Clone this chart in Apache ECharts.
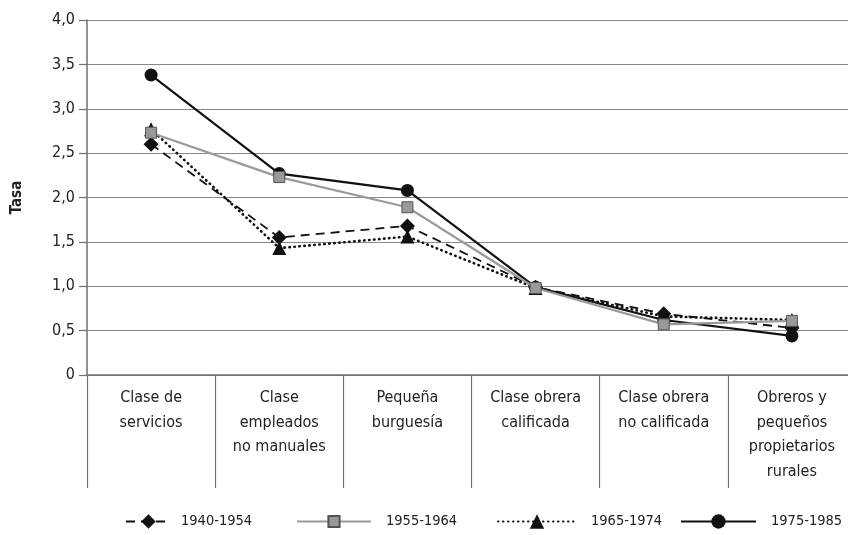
<!DOCTYPE html>
<html>
<head>
<meta charset="utf-8">
<script src="https://cdn.jsdelivr.net/npm/echarts@6/dist/echarts.min.js"></script>
<style>
  html, body { margin: 0; padding: 0; background: #fff; }
  #main { width: 848px; height: 535px; }
</style>
</head>
<body>
<div id="main"></div>
<script>
// categorias (clase social)
var categories = [
    'Clase de\nservicios',
    'Clase\nempleados\nno manuales',
    'Pequeña\nburguesía',
    'Clase obrera\ncalificada',
    'Clase obrera\nno calificada',
    'Obreros y\npequeños\npropietarios\nrurales'
];
var s1940 = [2.60, 1.55, 1.68, 0.99, 0.69, 0.53];
var s1955 = [2.73, 2.23, 1.89, 0.98, 0.57, 0.61];
var s1965 = [2.77, 1.43, 1.56, 0.98, 0.66, 0.62];
var s1975 = [3.38, 2.27, 2.08, 0.99, 0.62, 0.44];
var yTicks = [0, 0.5, 1, 1.5, 2, 2.5, 3, 3.5, 4];

var font = '"DejaVu Sans Condensed", "DejaVu Sans", sans-serif';
var axisGrey = '#707070';

var chart = echarts.init(document.getElementById('main'));

function legendItem(name, left, width, h, gap) {
    return {
        data: [name],
        left: left,
        top: 514,
        padding: 0,
        itemWidth: width,
        itemHeight: h,
        textStyle: { fontFamily: font, fontSize: 14.5, color: '#222', padding: [0, 0, 0, gap] }
    };
}

chart.setOption({
    animation: false,
    // the plot runs a little past the right edge, as in the source
    grid: { left: 87, top: 20, width: 769, height: 355, outerBoundsMode: 'none' },
    legend: [
        legendItem('1940-1954', 125, 45, 18, 5),
        legendItem('1955-1964', 296, 74, 14, 10),
        legendItem('1965-1974', 497, 78, 18, 10),
        legendItem('1975-1985', 680, 75, 18, 10)
    ],
    xAxis: {
        type: 'category',
        data: categories,
        boundaryGap: true,
        axisLine: { lineStyle: { color: axisGrey, width: 1.5 } },
        axisTick: { show: true, interval: 0, length: 113, lineStyle: { color: axisGrey, width: 1.2 } },
        axisLabel: {
            interval: 0,
            margin: 11,
            fontFamily: font,
            fontSize: 16,
            lineHeight: 24.5,
            color: '#222'
        }
    },
    yAxis: {
        type: 'value',
        min: yTicks[0],
        max: yTicks[yTicks.length - 1],
        interval: 0.5,
        name: 'Tasa',
        nameLocation: 'middle',
        nameGap: 62,
        nameTextStyle: { fontFamily: font, fontWeight: 'bold', fontSize: 15, color: '#222' },
        axisLine: { show: true, lineStyle: { color: axisGrey, width: 1.5 } },
        axisTick: { show: true, length: 8, lineStyle: { color: axisGrey, width: 1.2 } },
        axisLabel: {
            margin: 12,
            fontFamily: font,
            fontSize: 16,
            color: '#222',
            formatter: function (v) { return v === 0 ? '0' : v.toFixed(1).replace('.', ','); }
        },
        splitLine: { lineStyle: { color: '#888', width: 1.2 } }
    },
    series: [{
        name: '1940-1954',
        type: 'line',
        data: s1940,
        symbol: 'diamond',
        symbolSize: 15,
        color: '#111',
        itemStyle: { color: '#111' },
        lineStyle: { color: '#111', width: 1.8, type: [9, 6] },
        z: 3
    }, {
        name: '1955-1964',
        type: 'line',
        data: s1955,
        symbol: 'rect',
        symbolSize: 11,
        color: '#999',
        itemStyle: { color: '#999', borderColor: '#555', borderWidth: 1 },
        lineStyle: { color: '#9a9a9a', width: 2.2 },
        z: 5
    }, {
        name: '1965-1974',
        type: 'line',
        data: s1965,
        symbol: 'triangle',
        symbolSize: 14,
        color: '#111',
        itemStyle: { color: '#111' },
        lineStyle: { color: '#111', width: 2.6, type: [0.5, 4.5], cap: 'round' },
        z: 2
    }, {
        name: '1975-1985',
        type: 'line',
        data: s1975,
        symbol: 'circle',
        symbolSize: 13,
        color: '#111',
        itemStyle: { color: '#111' },
        lineStyle: { color: '#111', width: 2.2 },
        z: 4
    }]
});
</script>
</body>
</html>
